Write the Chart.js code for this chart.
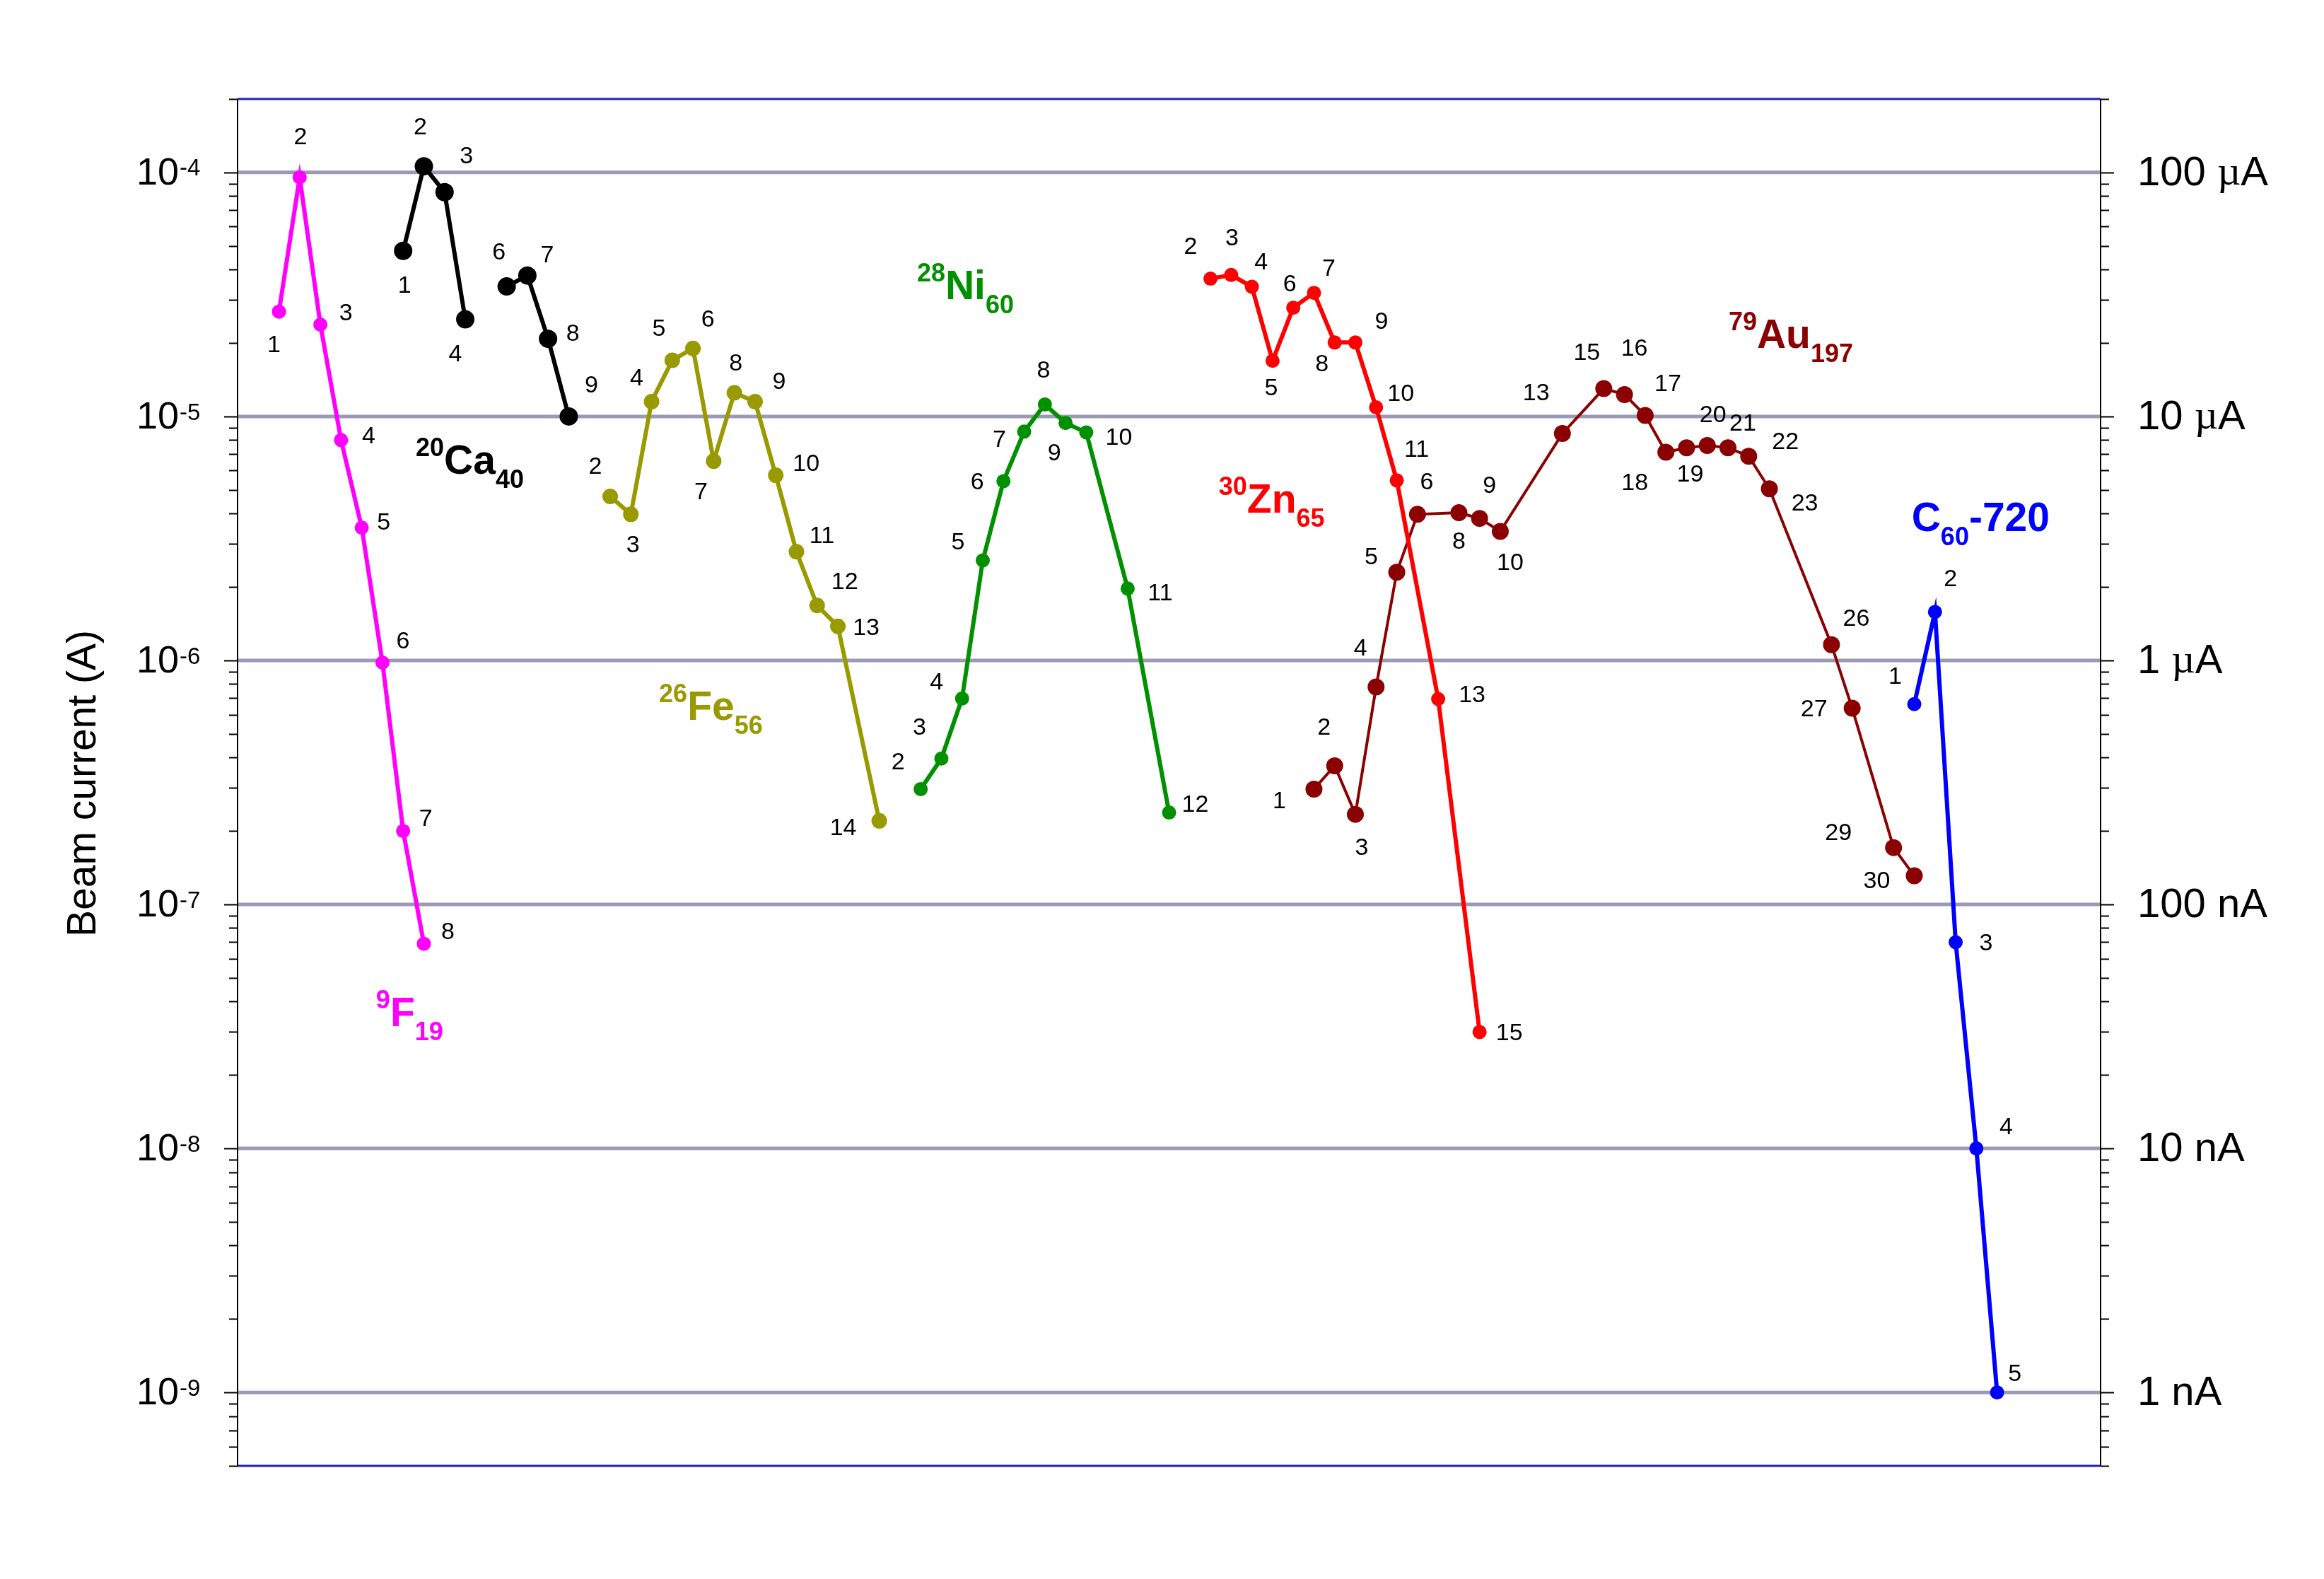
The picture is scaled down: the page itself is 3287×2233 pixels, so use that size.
<!DOCTYPE html>
<html>
<head>
<meta charset="utf-8">
<title>Beam current</title>
<script src="https://cdn.jsdelivr.net/npm/chart.js@4.4.1/dist/chart.umd.min.js"></script>
<style>
    html, body { margin: 0; padding: 0; background: #ffffff; }
    canvas { display: block; }
</style>
</head>
<body>
<canvas id="beamChart" width="3287" height="2233"></canvas>
<script>
// ---- Data: x = run position, y = beam current (A), num = run number ----

// 9F19
const fX = [0, 1, 2, 3, 4, 5, 6, 7];
const fY = [2.69e-5, 9.55e-5, 2.38e-5, 8.0e-6, 3.5e-6, 9.8e-7, 2.0e-7, 6.9e-8];
const fNum = [1, 2, 3, 4, 5, 6, 7, 8];

// 20Ca40 (run 5 missing)
const caX = [6, 7, 8, 9, 10, 11, 12, 13, 14];
const caY = [4.77e-5, 1.06e-4, 8.3e-5, 2.5e-5, null, 3.41e-5, 3.78e-5, 2.08e-5, 1.0e-5];
const caNum = [1, 2, 3, 4, null, 6, 7, 8, 9];

// 26Fe56
const feX = [16, 17, 18, 19, 20, 21, 22, 23, 24, 25, 26, 27, 29];
const feY = [4.7e-6, 3.97e-6, 1.15e-5, 1.7e-5, 1.9e-5, 6.56e-6, 1.25e-5, 1.15e-5, 5.74e-6, 2.79e-6, 1.68e-6, 1.38e-6, 2.2e-7];
const feNum = [2, 3, 4, 5, 6, 7, 8, 9, 10, 11, 12, 13, 14];

// 28Ni60
const niX = [31, 32, 33, 34, 35, 36, 37, 38, 39, 41, 43];
const niY = [2.97e-7, 3.96e-7, 6.98e-7, 2.57e-6, 5.43e-6, 8.67e-6, 1.12e-5, 9.4e-6, 8.6e-6, 1.97e-6, 2.38e-7];
const niNum = [2, 3, 4, 5, 6, 7, 8, 9, 10, 11, 12];

// 30Zn65
const znX = [45, 46, 47, 48, 49, 50, 51, 52, 53, 54, 56, 58];
const znY = [3.67e-5, 3.8e-5, 3.4e-5, 1.69e-5, 2.79e-5, 3.21e-5, 2.01e-5, 2.01e-5, 1.09e-5, 5.47e-6, 6.95e-7, 3.0e-8];
const znNum = [2, 3, 4, 5, 6, 7, 8, 9, 10, 11, 13, 15];

// 79Au197
const auX = [50, 51, 52, 53, 54, 55, 57, 58, 59, 62, 64, 65, 66, 67, 68, 69, 70, 71, 72, 75, 76, 78, 79];
const auY = [2.97e-7, 3.7e-7, 2.34e-7, 7.78e-7, 2.3e-6, 3.97e-6, 4.03e-6, 3.82e-6, 3.38e-6, 8.51e-6,
             1.30e-5, 1.23e-5, 1.01e-5, 7.14e-6, 7.44e-6, 7.6e-6, 7.44e-6, 6.87e-6, 5.05e-6, 1.16e-6,
             6.37e-7, 1.71e-7, 1.31e-7];
const auNum = [1, 2, 3, 4, 5, 6, 8, 9, 10, 13, 15, 16, 17, 18, 19, 20, 21, 22, 23, 26, 27, 29, 30];

// C60-720
const cX = [79, 80, 81, 82, 83];
const cY = [6.62e-7, 1.58e-6, 7.0e-8, 1.0e-8, 1.0e-9];
const cNum = [1, 2, 3, 4, 5];

// Axis ticks
const leftTickExp = [-4, -5, -6, -7, -8, -9];
const rightTickLabels = ['100 \u00b5A', '10 \u00b5A', '1 \u00b5A', '100 nA', '10 nA', '1 nA'];

// ---- Label placement (pixel offsets from each point) ----
const fOff = [[-7,48],[1,-56],[36,-15],[39,-5],[31,-7],[29,-29],[32,-17],[34,-16]];
const caOff = [[2,50],[-5,-55],[31,-50],[-14,50],null,[-11,-47],[28,-28],[35,-7],[32,-43]];
const feOff = [[-21,-41],[3,44],[-21,-32],[-19,-44],[21,-40],[-18,45],[2,-41],[34,-27],[43,-15],[36,-22],[39,-33],[40,3],[-51,11]];
const niOff = [[-32,-37],[-31,-43],[-36,-22],[-35,-25],[-37,2],[-35,12],[-2,-47],[-16,43],[46,8],[46,7],[37,-10]];
const znOff = [[-28,-44],[1,-51],[13,-34],[-2,39],[-5,-33],[21,-34],[-18,31],[37,-29],[35,-18],[28,-43],[48,-5],[42,2]];
const auOff = [[-49,18],[-15,-53],[9,48],[-22,-54],[-36,-21],[13,-45],[0,42],[14,-46],[14,45],[-37,-56],[-24,-50],
               [14,-64],[32,-44],[-44,44],[5,38],[8,-42],[21,-34],[52,-20],[50,21],[35,-36],[-54,2],[-78,-20],[-53,8]];
const cOff = [[-27,-38],[22,-46],[43,2],[42,-29],[25,-26]];

// Isotope names, anchored in data units (left edge / baseline)
const isoLabels = [
    { x: 4.69,  y: 3.17e-8, color: '#ff00ff', parts: [['sup','9'], ['main','F'], ['sub','19']] },
    { x: 6.61,  y: 5.82e-6, color: '#000000', parts: [['sup','20'], ['main','Ca'], ['sub','40']] },
    { x: 18.36, y: 5.71e-7, color: '#999900', parts: [['sup','26'], ['main','Fe'], ['sub','56']] },
    { x: 30.82, y: 3.03e-5, color: '#009000', parts: [['sup','28'], ['main','Ni'], ['sub','60']] },
    { x: 45.40, y: 4.03e-6, color: '#ff0000', parts: [['sup','30'], ['main','Zn'], ['sub','65']] },
    { x: 70.03, y: 1.91e-5, color: '#8b0000', parts: [['sup','79'], ['main','Au'], ['sub','197']] },
    { x: 78.87, y: 3.40e-6, color: '#0000ff', parts: [['main','C'], ['sub','60'], ['main','-720']] }
];

const SANS = 'Arial, "Liberation Sans", sans-serif';
const SERIF = '"Times New Roman", "Liberation Serif", serif';

// Build a dataset from arrays
function makeSeries(xs, ys, nums, offs, color, lineW, radius) {
    return {
        data: xs.map((x, i) => ({ x: x, y: ys[i] })),
        nums: nums,
        offs: offs,
        borderColor: color,
        backgroundColor: color,
        borderWidth: lineW,
        pointRadius: radius,
        pointBackgroundColor: color,
        pointBorderWidth: 0,
        pointHoverRadius: radius,
        tension: 0,
        spanGaps: false,
        fill: false
    };
}

const datasets = [
    makeSeries(fX, fY, fNum, fOff, '#ff00ff', 6, 10),
    makeSeries(caX, caY, caNum, caOff, '#000000', 6, 13),
    makeSeries(feX, feY, feNum, feOff, '#999900', 6, 11),
    makeSeries(niX, niY, niNum, niOff, '#009000', 6, 10),
    makeSeries(znX, znY, znNum, znOff, '#ff0000', 6, 10),
    makeSeries(auX, auY, auNum, auOff, '#8b0000', 4, 12),
    makeSeries(cX, cY, cNum, cOff, '#0000ff', 6, 10)
];

// Gridlines under the data
const gridPlugin = {
    id: 'decadeGrid',
    beforeDatasetsDraw(chart) {
        const { ctx, chartArea: a, scales: { y } } = chart;
        ctx.save();
        ctx.strokeStyle = '#9a9ab4';
        ctx.lineWidth = 5;
        leftTickExp.forEach(k => {
            const py = y.getPixelForValue(Math.pow(10, k));
            ctx.beginPath();
            ctx.moveTo(a.left, py);
            ctx.lineTo(a.right, py);
            ctx.stroke();
        });
        ctx.restore();
    }
};

// Frame, ticks, labels, annotations
function drawIso(ctx, px, py, parts, color) {
    let x = px;
    ctx.fillStyle = color;
    ctx.textAlign = 'left';
    ctx.textBaseline = 'alphabetic';
    parts.forEach(([kind, txt]) => {
        let dy = 0;
        if (kind === 'main') {
            ctx.font = 'bold 57px ' + SANS;
        } else {
            ctx.font = 'bold 36px ' + SANS;
            dy = kind === 'sup' ? -25 : 20;
        }
        ctx.fillText(txt, x, py + dy);
        x += ctx.measureText(txt).width;
    });
}

const decorPlugin = {
    id: 'decor',
    afterDatasetsDraw(chart) {
        const { ctx, chartArea: a, scales: { y, x } } = chart;
        ctx.save();

        // axis lines
        ctx.lineWidth = 3;
        ctx.strokeStyle = '#2020c0';
        ctx.beginPath();
        ctx.moveTo(a.left, a.top); ctx.lineTo(a.right, a.top);
        ctx.moveTo(a.left, a.bottom); ctx.lineTo(a.right, a.bottom);
        ctx.stroke();
        ctx.lineWidth = 2;
        ctx.strokeStyle = '#000000';
        ctx.beginPath();
        ctx.moveTo(a.left, a.top); ctx.lineTo(a.left, a.bottom);
        ctx.moveTo(a.right, a.top); ctx.lineTo(a.right, a.bottom);
        ctx.stroke();

        // log ticks on both sides
        ctx.beginPath();
        for (let k = -10; k <= -4; k++) {
            for (let m = 1; m <= 9; m++) {
                const v = m * Math.pow(10, k);
                if (v < y.min * 0.999 || v > y.max * 1.001) continue;
                const py = Math.round(y.getPixelForValue(v)) + 0.5;
                const len = m === 1 ? 19 : 12;
                ctx.moveTo(a.left - len, py); ctx.lineTo(a.left, py);
                ctx.moveTo(a.right, py); ctx.lineTo(a.right + len, py);
            }
        }
        ctx.stroke();

        // left tick labels 10^k
        ctx.fillStyle = '#000000';
        leftTickExp.forEach(k => {
            const py = y.getPixelForValue(Math.pow(10, k));
            ctx.font = '54px ' + SANS;
            ctx.textAlign = 'right';
            ctx.textBaseline = 'middle';
            ctx.fillText('10', 253, py + 2);
            ctx.font = '33px ' + SANS;
            ctx.textAlign = 'left';
            ctx.textBaseline = 'top';
            ctx.fillText(String(k), 254, py - 21);
        });

        // right tick labels in A units
        ctx.textBaseline = 'middle';
        ctx.textAlign = 'left';
        leftTickExp.forEach((k, i) => {
            const py = y.getPixelForValue(Math.pow(10, k));
            const txt = rightTickLabels[i];
            const sp = txt.indexOf(' ');
            let tx = 3023;
            ctx.font = '58px ' + SANS;
            const num = txt.slice(0, sp + 1);
            ctx.fillText(num, tx, py + 2);
            tx += ctx.measureText(num).width;
            const unit = txt.slice(sp + 1);
            if (unit[0] === '\u00b5') {
                ctx.font = '58px ' + SERIF;
                ctx.fillText('\u00b5', tx, py + 2);
                tx += ctx.measureText('\u00b5').width;
                ctx.font = '58px ' + SANS;
                ctx.fillText(unit.slice(1), tx, py + 2);
            } else {
                ctx.fillText(unit, tx, py + 2);
            }
        });

        // y axis title
        ctx.save();
        ctx.translate(119, 1108);
        ctx.rotate(-Math.PI / 2);
        ctx.font = '57px ' + SANS;
        ctx.textAlign = 'center';
        ctx.textBaseline = 'middle';
        ctx.fillText('Beam current (A)', 0, 0);
        ctx.restore();

        // run numbers beside each point
        ctx.font = '34px ' + SANS;
        ctx.textAlign = 'center';
        ctx.textBaseline = 'middle';
        ctx.fillStyle = '#000000';
        chart.data.datasets.forEach((ds, di) => {
            const meta = chart.getDatasetMeta(di);
            meta.data.forEach((pt, i) => {
                if (ds.nums[i] == null || ds.data[i].y == null) return;
                const off = ds.offs[i] || [0, 0];
                ctx.fillText(String(ds.nums[i]), pt.x + off[0], pt.y + off[1]);
            });
        });

        // isotope names
        isoLabels.forEach(l => {
            drawIso(ctx, x.getPixelForValue(l.x), y.getPixelForValue(l.y), l.parts, l.color);
        });

        ctx.restore();
    }
};

const chart = new Chart(document.getElementById('beamChart'), {
    type: 'line',
    data: { datasets: datasets },
    options: {
        responsive: false,
        animation: false,
        devicePixelRatio: 1,
        layout: { padding: { left: 336, right: 316, top: 140, bottom: 160 } },
        scales: {
            x: { type: 'linear', min: -2, max: 88, display: false },
            y: { type: 'logarithmic', min: 5e-10, max: 2e-4, display: false }
        },
        plugins: {
            legend: { display: false },
            tooltip: { enabled: false }
        }
    },
    plugins: [gridPlugin, decorPlugin]
});
</script>
</body>
</html>
